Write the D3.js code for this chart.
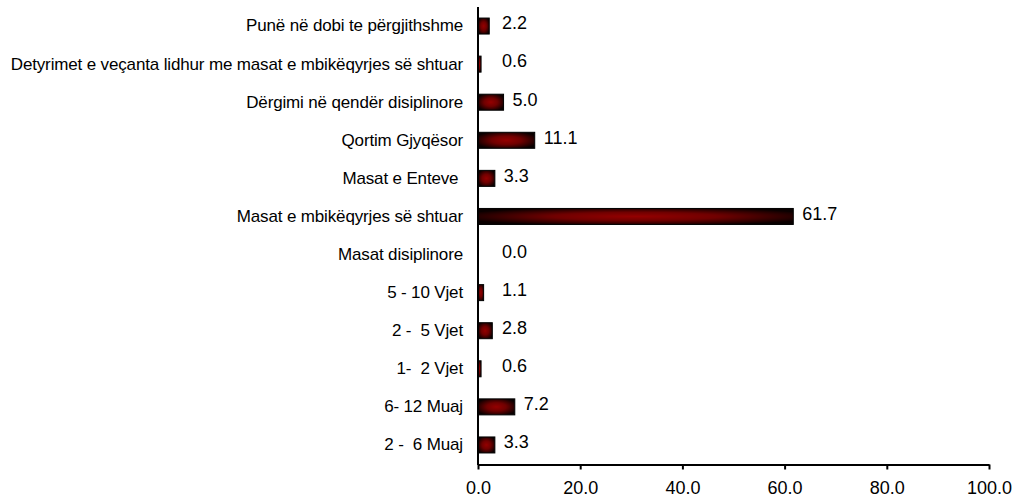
<!DOCTYPE html>
<html>
<head>
<meta charset="utf-8">
<script src="https://cdn.jsdelivr.net/npm/d3@7"></script>
<style>
	body { margin: 0; background: #fff; }
	svg text { font-family: "Liberation Sans", Arial, sans-serif; fill: #000; white-space: pre; }
</style>
</head>
<body>
<div id="chart"></div>
<script>
// data
// ----------------------------------------
var categories = [
	"Punë në dobi te përgjithshme",
	"Detyrimet e veçanta lidhur me masat e mbikëqyrjes së shtuar",
	"Dërgimi në qendër disiplinore",
	"Qortim Gjyqësor",
	"Masat e Enteve ",
	"Masat e mbikëqyrjes së shtuar",
	"Masat disiplinore",
	"5 - 10 Vjet",
	"2 -  5 Vjet",
	"1-  2 Vjet",
	"6- 12 Muaj",
	"2 -  6 Muaj"
];
var values = [2.2, 0.6, 5.0, 11.1, 3.3, 61.7, 0.0, 1.1, 2.8, 0.6, 7.2, 3.3];
var xTicks = [0, 20, 40, 60, 80, 100];

// main variables
// ----------------------------------------
var width = 1018, height = 499;
var margin = {top: 7, right: 29, bottom: 35, left: 478};

var svg = d3.select("#chart")
	.append("svg")
	.attr("width", width)
	.attr("height", height);

var defs = svg.append("defs");
var grad = defs.append("radialGradient")
	.attr("id", "barfill")
	.attr("cx", "50%").attr("cy", "50%").attr("r", "58%");
grad.append("stop").attr("offset", "0%").attr("stop-color", "#940000");
grad.append("stop").attr("offset", "45%").attr("stop-color", "#700000");
grad.append("stop").attr("offset", "100%").attr("stop-color", "#0a0000");

var x = d3.scaleLinear()
	.domain([0, 100])
	.range([margin.left, width - margin.right]);

var y = d3.scaleBand()
	.domain(categories)
	.range([margin.top, height - margin.bottom])
	.paddingInner(0.58)
	.paddingOuter(0.29);

// bars
svg.append("g")
	.selectAll("rect")
	.data(values)
	.enter()
	.append("rect")
	.attr("x", x(0))
	.attr("y", function(d, i){ return y(categories[i]); })
	.attr("width", function(d){ return x(d) - x(0); })
	.attr("height", y.bandwidth())
	.attr("fill", "url(#barfill)")
	.attr("stroke", function(d){ return d > 0 ? "#000" : "none"; })
	.attr("stroke-width", 1);

// value labels
svg.append("g")
	.selectAll("text")
	.data(values)
	.enter()
	.append("text")
	.attr("x", function(d){ return Math.max(x(d) + 9, x(0) + 24); })
	.attr("y", function(d, i){ return y(categories[i]) + y.bandwidth() / 2 - 3; })
	.attr("dy", "0.35em")
	.style("font-size", "18px")
	.text(function(d){ return d3.format(".1f")(d); });

// x axis
var xAxis = svg.append("g")
	.attr("transform", "translate(0," + (height - margin.bottom + 0.5) + ")")
	.call(d3.axisBottom(x)
		.tickValues(xTicks)
		.tickSize(5)
		.tickSizeOuter(0)
		.tickPadding(12)
		.tickFormat(d3.format(".1f")));
xAxis.select(".domain").attr("stroke", "#000").attr("stroke-width", 2);
xAxis.selectAll(".tick line").attr("stroke", "#000").attr("stroke-width", 2);
xAxis.selectAll(".tick text").style("font-size", "18px")
	.style("font-family", "'Liberation Sans', Arial, sans-serif");

// y axis
var yAxis = svg.append("g")
	.attr("transform", "translate(" + x(0) + ",0)")
	.call(d3.axisLeft(y).tickSize(0).tickPadding(15));
yAxis.select(".domain")
	.attr("d", "M0," + margin.top + "V" + (height - margin.bottom + 1))
	.attr("stroke", "#000").attr("stroke-width", 2);
yAxis.selectAll(".tick text").style("font-size", "17px")
	.style("font-family", "'Liberation Sans', Arial, sans-serif")
	.style("letter-spacing", "-0.15px");
</script>
</body>
</html>
